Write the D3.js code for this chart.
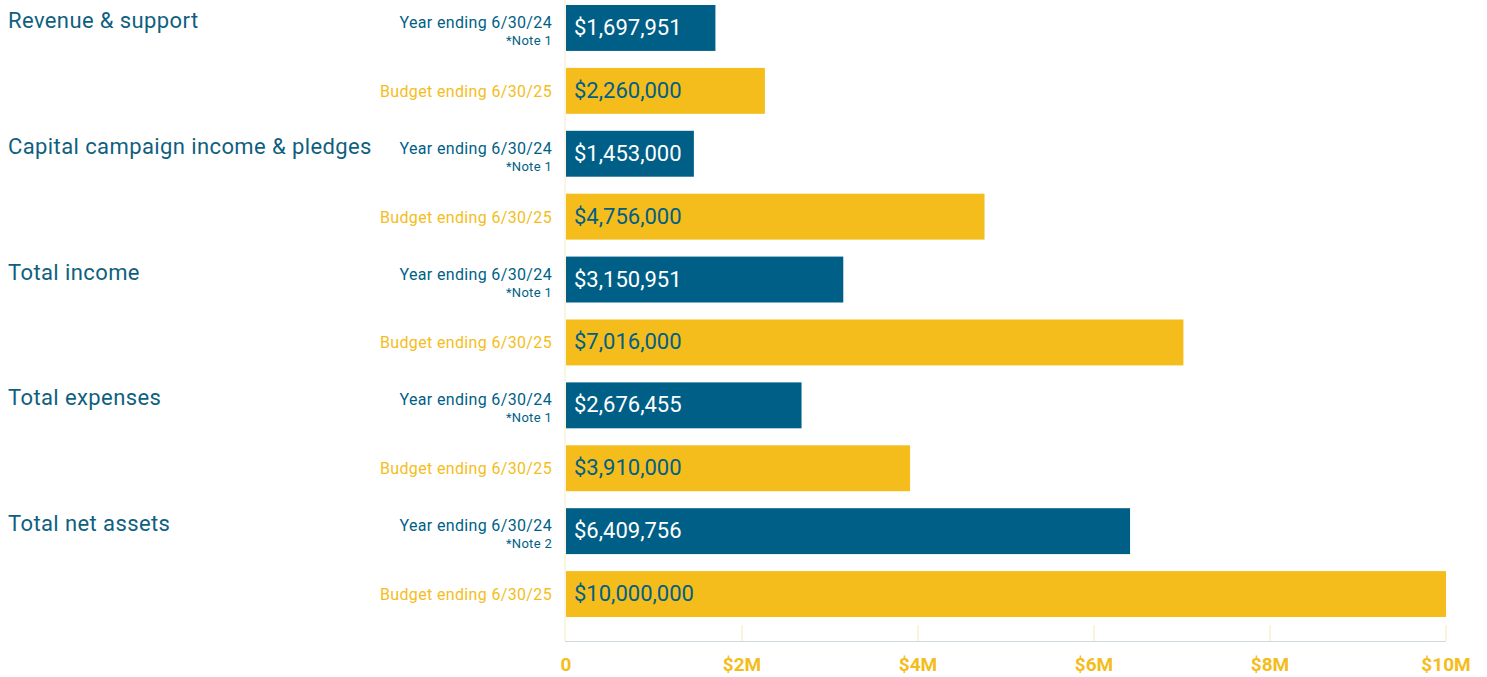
<!DOCTYPE html>
<html>
<head>
<meta charset="utf-8">
<script src="https://cdn.jsdelivr.net/npm/d3@7"></script>
<style>
  body { margin: 0; background: #fff; font-family: Roboto, "Noto Sans", sans-serif; }
</style>
</head>
<body>
<div id="chart"></div>
<script>
const categories = ["Revenue & support", "Capital campaign income & pledges", "Total income", "Total expenses", "Total net assets"];
const seriesNames = ["Year ending 6/30/24", "Budget ending 6/30/25"];
const actualValues = [1697951, 1453000, 3150951, 2676455, 6409756];
const budgetValues = [2260000, 4756000, 7016000, 3910000, 10000000];
const notes = ["*Note 1", "*Note 1", "*Note 1", "*Note 1", "*Note 2"];
const tickValues = [0, 2000000, 4000000, 6000000, 8000000, 10000000];
const tickLabels = ["0", "$2M", "$4M", "$6M", "$8M", "$10M"];

const width = 1487, height = 677;
const blue = "#005f86", yellow = "#f4bd1c";

// one row per category x series
const rows = [];
categories.forEach((c, i) => {
  rows.push({ cat: c, ci: i, s: 0, value: actualValues[i], note: notes[i] });
  rows.push({ cat: c, ci: i, s: 1, value: budgetValues[i], note: null });
});

const svg = d3.select("#chart").append("svg")
  .attr("width", width).attr("height", height);

const x = d3.scaleLinear().domain([0, 10000000]).range([566, 1446]);
const y = d3.scaleBand()
  .domain(d3.range(rows.length))
  .range([-3.5, 625.5])
  .paddingInner(0.27)
  .paddingOuter(0.135);

// left vertical line
svg.append("line")
  .attr("x1", x(0) - 1).attr("x2", x(0) - 1)
  .attr("y1", 0).attr("y2", 641)
  .attr("stroke", "#f6ebc8").attr("stroke-width", 1);

// ticks
svg.selectAll(".tick")
  .data(tickValues.slice(1))
  .enter().append("line")
  .attr("x1", d => x(d)).attr("x2", d => x(d))
  .attr("y1", 625).attr("y2", 641)
  .attr("stroke", "#f6e6b4").attr("stroke-width", 1);

svg.append("line")
  .attr("x1", x(0) - 1).attr("x2", x(10000000))
  .attr("y1", 641.5).attr("y2", 641.5)
  .attr("stroke", "#cdd9df").attr("stroke-width", 1);

svg.selectAll(".ticklabel")
  .data(tickValues)
  .enter().append("text")
  .attr("x", d => x(d))
  .attr("y", 671)
  .attr("text-anchor", "middle")
  .attr("font-size", "19px")
  .attr("font-weight", "bold")
  .attr("fill", yellow)
  .text((d, i) => tickLabels[i]);

// bars
svg.selectAll(".bar")
  .data(rows)
  .enter().append("rect")
  .attr("x", x(0))
  .attr("y", (d, i) => y(i))
  .attr("width", d => x(d.value) - x(0))
  .attr("height", y.bandwidth())
  .attr("fill", d => d.s === 0 ? blue : yellow);

// values inside bars
svg.selectAll(".val")
  .data(rows)
  .enter().append("text")
  .attr("x", x(0) + 8)
  .attr("y", (d, i) => y(i) + y.bandwidth() / 2 + 7)
  .attr("font-size", "22px")
  .attr("fill", d => d.s === 0 ? "#fff" : blue)
  .text(d => "$" + d3.format(",")(d.value));

// series labels
svg.selectAll(".slabel")
  .data(rows)
  .enter().append("text")
  .attr("x", 552)
  .attr("y", (d, i) => d.s === 0 ? y(i) + 23 : y(i) + y.bandwidth() / 2 + 6)
  .attr("text-anchor", "end")
  .attr("font-size", "16px")
  .attr("letter-spacing", "0.35px")
  .attr("fill", d => d.s === 0 ? blue : yellow)
  .text(d => seriesNames[d.s]);

svg.selectAll(".note")
  .data(rows.filter(d => d.note))
  .enter().append("text")
  .attr("x", 552)
  .attr("y", d => y(d.ci * 2) + 40)
  .attr("text-anchor", "end")
  .attr("font-size", "13px")
  .attr("letter-spacing", "0.3px")
  .attr("fill", blue)
  .text(d => d.note);

// category labels
svg.selectAll(".cat")
  .data(categories)
  .enter().append("text")
  .attr("x", 8)
  .attr("y", (d, i) => y(i * 2) + 23)
  .attr("font-size", "22px")
  .attr("letter-spacing", "0.4px")
  .attr("fill", "#0f5f80")
  .text(d => d);
</script>
</body>
</html>
